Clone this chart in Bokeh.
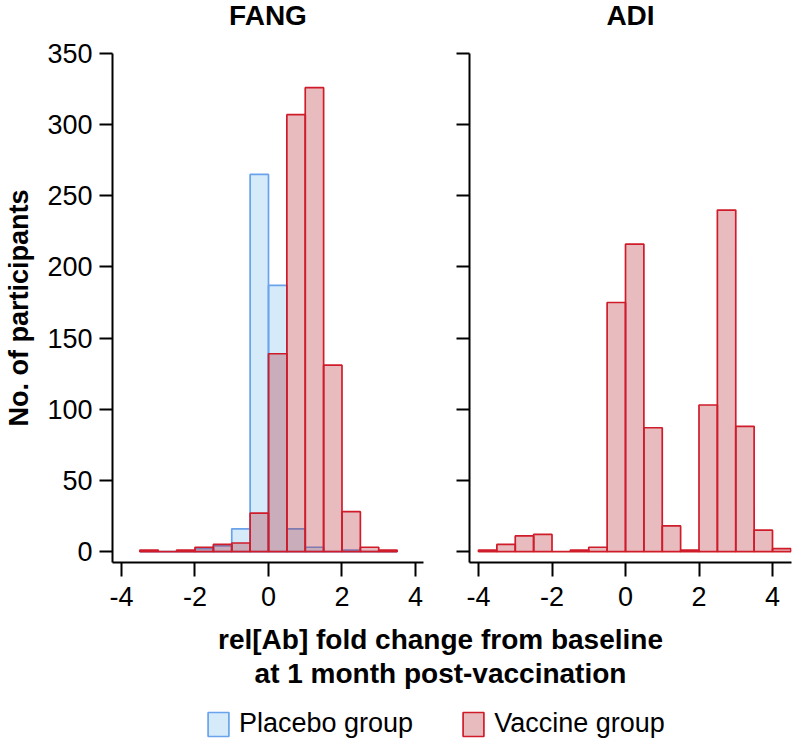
from bokeh.plotting import figure
from bokeh.models import FixedTicker, Range1d, Legend, LegendItem, Label, ColumnDataSource
from bokeh.layouts import column, row
from bokeh.embed import file_html
from bokeh.resources import INLINE

# ---------------- data ----------------
fang_edges = [-3.5, -3.0, -2.5, -2.0, -1.5, -1.0, -0.5, 0.0, 0.5, 1.0, 1.5, 2.0, 2.5, 3.0, 3.5]
fang_placebo = [0, 0, 0, 2, 4, 16, 265, 187, 16, 3, 0, 1, 0, 0]
fang_vaccine = [1, 0, 1, 3, 5, 6, 27, 139, 307, 326, 131, 28, 3, 1]

adi_edges = [-4.0, -3.5, -3.0, -2.5, -2.0, -1.5, -1.0, -0.5, 0.0, 0.5, 1.0, 1.5,
             2.0, 2.5, 3.0, 3.5, 4.0, 4.5]
adi_vaccine = [1, 5, 11, 12, 0, 1, 3, 175, 216, 87, 18, 1, 103, 240, 88, 15, 2]

x_ticks = [-4, -2, 0, 2, 4]
y_ticks = [0, 50, 100, 150, 200, 250, 300, 350]
panel_titles = ["FANG", "ADI"]
group_labels = ["Placebo group", "Vaccine group"]
x_label_lines = ["rel[Ab] fold change from baseline", "at 1 month post-vaccination"]
y_label = "No. of participants"

# ---------------- style ----------------
FONT = "Liberation Sans"
PLA_LINE, PLA_FILL = "#6aa3ec", "#74bcf0"
VAC_LINE, VAC_FILL = "#d01c2a", "#b21e28"
FILL_ALPHA = 0.3
BAR_LW = 1.7
TICK_FS = "27px"
BOLD_FS = "28px"
YLAB_FS = "27px"


def hist_source(edges, counts):
    return ColumnDataSource(dict(left=edges[:-1], right=edges[1:], top=counts,
                                 bottom=[0] * len(counts)))


def style_panel(p):
    p.outline_line_color = None
    p.xgrid.visible = False
    p.ygrid.visible = False
    p.background_fill_color = "white"
    p.border_fill_color = "white"
    for ax in (p.xaxis[0], p.yaxis[0]):
        ax.axis_line_width = 2
        ax.axis_line_color = "black"
        ax.major_tick_line_width = 2
        ax.major_tick_line_color = "black"
        ax.major_tick_in = 0
        ax.minor_tick_line_color = None
        ax.major_label_text_font = FONT
        ax.major_label_text_font_size = TICK_FS
        ax.major_label_text_color = "black"
    p.xaxis[0].major_tick_out = 14
    p.yaxis[0].major_tick_out = 13
    p.xaxis[0].major_label_standoff = 10
    p.xaxis[0].axis_label_standoff = 0
    p.yaxis[0].major_label_standoff = 7
    p.xaxis[0].ticker = FixedTicker(ticks=x_ticks)
    p.yaxis[0].ticker = FixedTicker(ticks=y_ticks)
    p.xaxis[0].major_label_overrides = {t: str(t) for t in x_ticks}


def text_strip(width, height):
    s = figure(width=width, height=height, output_backend="svg", toolbar_location=None,
               x_range=Range1d(0, width), y_range=Range1d(0, height),
               min_border=0, min_border_left=0, min_border_right=0,
               min_border_top=0, min_border_bottom=0)
    s.axis.visible = False
    s.grid.visible = False
    s.outline_line_color = None
    s.border_fill_color = "white"
    s.background_fill_color = "white"
    return s


Y0, Y1 = -7.7, 350

# top strip with the panel titles (page y 0..36)
p0 = text_strip(792, 36)
for t, cx in zip(panel_titles, [267.5, 630]):
    p0.add_layout(Label(x=cx, y=21.5, x_units="screen", y_units="screen", text=t,
                        text_font=FONT, text_font_size=BOLD_FS, text_font_style="bold",
                        text_align="center", text_baseline="alphabetic", text_color="black"))

# panels (page y 36..624, frame 53..562)
p1 = figure(width=440, height=588, output_backend="svg", toolbar_location=None, title=None,
            x_range=Range1d(-4.245, 4.218), y_range=Range1d(Y0, Y1),
            min_border_left=112, min_border_right=17, min_border_top=17, min_border_bottom=62)
style_panel(p1)
p1.yaxis[0].axis_label = y_label
p1.yaxis[0].axis_label_text_font = FONT
p1.yaxis[0].axis_label_text_font_size = YLAB_FS
p1.yaxis[0].axis_label_text_font_style = "bold"
p1.yaxis[0].axis_label_text_color = "black"
p1.yaxis[0].axis_label_standoff = 10

p1.quad(left="left", right="right", top="top", bottom="bottom",
        source=hist_source(fang_edges, fang_placebo),
        fill_color=PLA_FILL, fill_alpha=FILL_ALPHA, line_color=PLA_LINE, line_width=BAR_LW)
p1.quad(left="left", right="right", top="top", bottom="bottom",
        source=hist_source(fang_edges, fang_vaccine),
        fill_color=VAC_FILL, fill_alpha=FILL_ALPHA, line_color=VAC_LINE, line_width=BAR_LW)

p2 = figure(width=352, height=588, output_backend="svg", toolbar_location=None, title=None,
            x_range=Range1d(-4.245, 4.517), y_range=Range1d(Y0, Y1),
            min_border_left=29, min_border_right=1, min_border_top=17, min_border_bottom=62)
style_panel(p2)
p2.yaxis[0].major_label_overrides = {t: "" for t in y_ticks}
p2.quad(left="left", right="right", top="top", bottom="bottom",
        source=hist_source(adi_edges, adi_vaccine),
        fill_color=VAC_FILL, fill_alpha=FILL_ALPHA, line_color=VAC_LINE, line_width=BAR_LW)

# bottom strip (page y 624..742): shared x-axis label and legend
p3 = text_strip(792, 118)
for line_text, base_y in zip(x_label_lines, [103, 69]):
    p3.add_layout(Label(x=440, y=base_y, x_units="screen", y_units="screen", text=line_text,
                        text_font=FONT, text_font_size=BOLD_FS, text_font_style="bold",
                        text_align="center", text_baseline="alphabetic", text_color="black"))

# legend swatches: hidden stand-in renderers (one off-screen item each) carrying the styles
hidden = dict(left=[-20], right=[-10], top=[-10], bottom=[-20])
r_pla = p3.quad(left="left", right="right", top="top", bottom="bottom",
                source=ColumnDataSource(dict(hidden)),
                fill_color=PLA_FILL, fill_alpha=FILL_ALPHA, line_color=PLA_LINE, line_width=BAR_LW)
r_vac = p3.quad(left="left", right="right", top="top", bottom="bottom",
                source=ColumnDataSource(dict(hidden)),
                fill_color=VAC_FILL, fill_alpha=FILL_ALPHA, line_color=VAC_LINE, line_width=BAR_LW)
legend = Legend(items=[LegendItem(label=group_labels[0], renderers=[r_pla]),
                       LegendItem(label=group_labels[1], renderers=[r_vac])],
                location=(205, 3), orientation="horizontal",
                glyph_width=26, glyph_height=30, label_standoff=8, spacing=47,
                padding=0, margin=0, border_line_color=None, background_fill_alpha=0,
                label_text_font=FONT, label_text_font_size=TICK_FS, label_text_color="black")
p3.add_layout(legend)

layout = column(p0, row(p1, p2), p3)
open("out.html", "w").write(file_html(layout, INLINE))
